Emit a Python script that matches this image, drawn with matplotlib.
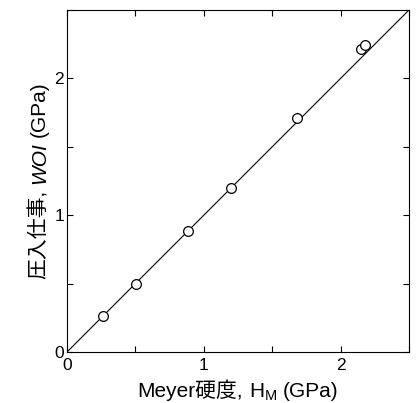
import matplotlib
matplotlib.use("Agg")
import matplotlib.pyplot as plt
from matplotlib.ticker import MultipleLocator, FuncFormatter
from matplotlib.transforms import IdentityTransform

# data
hardness = [0.263, 0.505, 0.882, 1.197, 1.680, 2.146, 2.175]
woi = [0.263, 0.497, 0.883, 1.202, 1.714, 2.214, 2.246]
fit_x = [0.0, 2.5]
fit_y = [0.0, 2.5]
x_ticklabels = {0: "0", 1: "1", 2: "2"}

plt.rcParams['font.family'] = ['Liberation Sans', 'Noto Sans CJK JP']
DPI = 100
W, H = 417, 403
fig = plt.figure(figsize=(W / DPI, H / DPI), dpi=DPI)
ax = fig.add_axes([67 / W, (H - 352) / H, 342 / W, 342 / H])

ax.plot(fit_x, fit_y, color='black', lw=0.8)
ax.plot(hardness, woi, 'o', mfc='white', mec='black', ms=7, mew=0.9, ls='none')

ax.set_xlim(0, 2.5)
ax.set_ylim(0, 2.5)
for axis in (ax.xaxis, ax.yaxis):
    axis.set_major_locator(MultipleLocator(0.5))
    axis.set_major_formatter(FuncFormatter(lambda v, p: x_ticklabels.get(int(round(v)), "") if abs(v - round(v)) < 1e-6 else ""))
ax.tick_params(direction='in', length=4, width=0.8, top=True, right=True, labelsize=12.5)
ax.tick_params(axis='x', pad=4.5)
ax.tick_params(axis='y', pad=2.2)
for s in ax.spines.values():
    s.set_linewidth(0.8)

fs = 15
renderer = fig.canvas.get_renderer()

def measure(txt, size, style):
    t = fig.text(0, 0, txt, fontsize=size, style=style)
    w = t.get_window_extent(renderer).width
    t.remove()
    return w

def draw_pieces(pieces, cx, cy, vertical):
    # pieces: (text, size, style, gap_before_px, baseline_shift_px)
    widths = [measure(p[0], p[1], p[2]) for p in pieces]
    total = sum(widths) + sum(p[3] for p in pieces)
    pos = -total / 2
    for (txt, size, style, gap, shift), w in zip(pieces, widths):
        pos += gap
        if vertical:
            x, y = cx + shift, cy + pos
            rot = 90
        else:
            x, y = cx + pos, cy - shift
            rot = 0
        fig.text(x, y, txt, fontsize=size, style=style, rotation=rot,
                 rotation_mode='anchor', ha='left', va='baseline',
                 transform=IdentityTransform())
        pos += w

sp = fs * 0.278 * DPI / 72
# x label (display coords: origin bottom-left)
draw_pieces([
    ("Meyer硬度,", fs, 'normal', 0, 0),
    ("H", fs, 'normal', sp, 0),
    ("M", fs * 0.7, 'normal', 0.5, 3),
    ("(GPa)", fs, 'normal', sp, 0),
], 238, H - 397, vertical=False)

draw_pieces([
    ("圧入仕事,", fs, 'normal', 0, 0),
    ("WOI", fs, 'italic', sp, 0),
    ("(GPa)", fs, 'normal', sp, 0),
], 45, H - 180, vertical=True)

fig.savefig("out.png", dpi=DPI)
